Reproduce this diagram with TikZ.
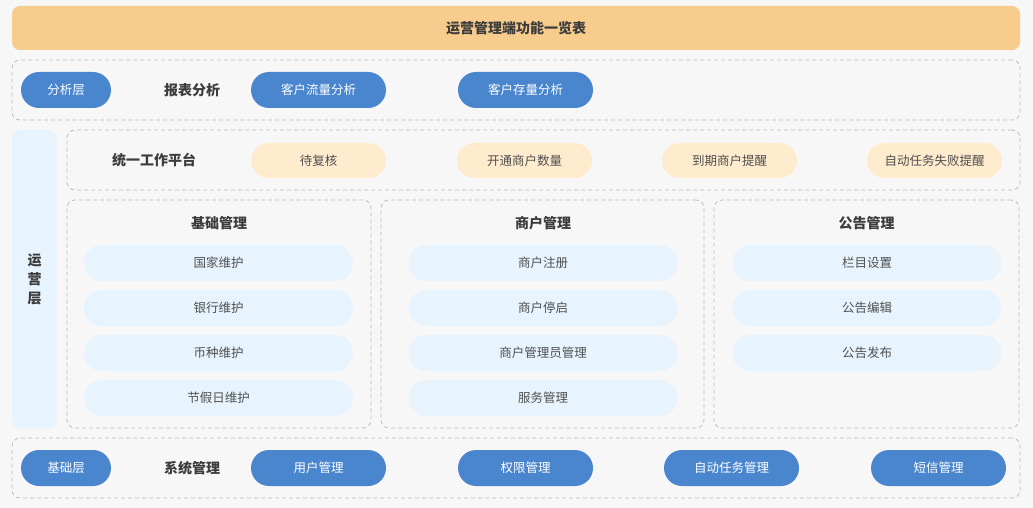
\documentclass[tikz,border=0pt]{standalone}
\usepackage{fontspec}
\setmainfont{Noto Sans CJK SC}
\usetikzlibrary{positioning}
\definecolor{pagebg}{HTML}{F7F7F7}
\definecolor{titleor}{HTML}{F8CC8C}
\definecolor{pillblue}{HTML}{4A86CD}
\definecolor{pillor}{HTML}{FFEBCD}
\definecolor{itemblue}{HTML}{E7F4FD}
\definecolor{dashgray}{HTML}{BDBDBD}
\definecolor{txtdark}{HTML}{3C3C3C}
\definecolor{txtgray}{HTML}{505050}

\begin{document}
\begin{tikzpicture}[
  x=1pt, y=-1pt,
  every node/.style={inner sep=0pt, outer sep=0pt},
  titlebar/.style={fill=titleor, rounded corners=8pt, minimum width=1008pt,
                   minimum height=44pt, text=txtdark,
                   font=\fontsize{14}{16}\selectfont\bfseries},
  layerbox/.style={draw=dashgray, dash pattern=on 4pt off 3pt, line width=0.8pt,
                   rounded corners=8pt},
  layertag/.style={fill=pillblue, rounded corners=18pt, minimum width=90pt,
                   minimum height=36pt, text=white, font=\fontsize{12.5}{15}\selectfont},
  bluepill/.style={layertag, minimum width=135pt},
  orpill/.style={fill=pillor, rounded corners=17.5pt, minimum width=135pt,
                 minimum height=35pt, text=txtgray, font=\fontsize{12.5}{15}\selectfont},
  itembox/.style={fill=itemblue, rounded corners=18pt, minimum width=269pt,
                  minimum height=36pt, text=txtgray, font=\fontsize{12.5}{15}\selectfont},
  head/.style={text=txtdark, font=\fontsize{14}{16}\selectfont\bfseries},
]
\fill[pagebg] (0,0) rectangle (1033,508);

%====================== TITLE ======================
\node[titlebar] (title) at (516,28) {运营管理端功能一览表};

%====================== ANALYSIS LAYER ======================
\node[layerbox, minimum width=1008pt, minimum height=60pt] (ana) at (516,90) {};
\node[layertag] (anatag) at (66,90) {分析层};
\node[head] (report) at (192,90) {报表分析};
\node[bluepill] (flow) at (318.5,90) {客户流量分析};
\node[bluepill] (stock) at (525.5,90) {客户存量分析};

%====================== OPERATION LAYER ======================
\node[fill=itemblue, rounded corners=8pt, minimum width=45pt, minimum height=298pt,
      align=center, text=txtdark, font=\fontsize{14}{19}\selectfont\bfseries] (optag)
      at (34.5,279) {运\\营\\层};

\node[layerbox, minimum width=953pt, minimum height=60pt] (work) at (543.5,160) {};
\node[head] (worktitle) at (154,160) {统一工作平台};
\node[orpill] (review) at (318.5,160.5) {待复核};
\node[orpill] (opened) at (524.5,160.5) {开通商户数量};
\node[orpill] (expire) at (729.5,160.5) {到期商户提醒};
\node[orpill] (failed) at (934.5,160.5) {自动任务失败提醒};

% --- basic management
\node[layerbox, minimum width=304pt, minimum height=228pt] (basic) at (219,314) {};
\node[head] (basict) at (219,223) {基础管理};
\node[itembox] (b1) at (218.5,263) {国家维护};
\node[itembox, below=9pt of b1] (b2) {银行维护};
\node[itembox, below=9pt of b2] (b3) {币种维护};
\node[itembox, below=9pt of b3] (b4) {节假日维护};

% --- merchant management
\node[layerbox, minimum width=323pt, minimum height=228pt] (merch) at (542.5,314) {};
\node[head] (mercht) at (543,223) {商户管理};
\node[itembox] (m1) at (543,263) {商户注册};
\node[itembox, below=9pt of m1] (m2) {商户停启};
\node[itembox, below=9pt of m2] (m3) {商户管理员管理};
\node[itembox, below=9pt of m3] (m4) {服务管理};

% --- notice management
\node[layerbox, minimum width=305pt, minimum height=228pt] (notice) at (866.5,314) {};
\node[head] (noticet) at (866.5,223) {公告管理};
\node[itembox] (n1) at (867,263) {栏目设置};
\node[itembox, below=9pt of n1] (n2) {公告编辑};
\node[itembox, below=9pt of n2] (n3) {公告发布};

%====================== BASE LAYER ======================
\node[layerbox, minimum width=1008pt, minimum height=60pt] (base) at (516,468) {};
\node[layertag] (basetag) at (66,468) {基础层};
\node[head] (sys) at (192,468) {系统管理};
\node[bluepill] (user) at (318.5,468) {用户管理};
\node[bluepill] (perm) at (525.5,468) {权限管理};
\node[bluepill] (auto) at (731.5,468) {自动任务管理};
\node[bluepill] (sms) at (938.5,468) {短信管理};
\end{tikzpicture}
\end{document}
